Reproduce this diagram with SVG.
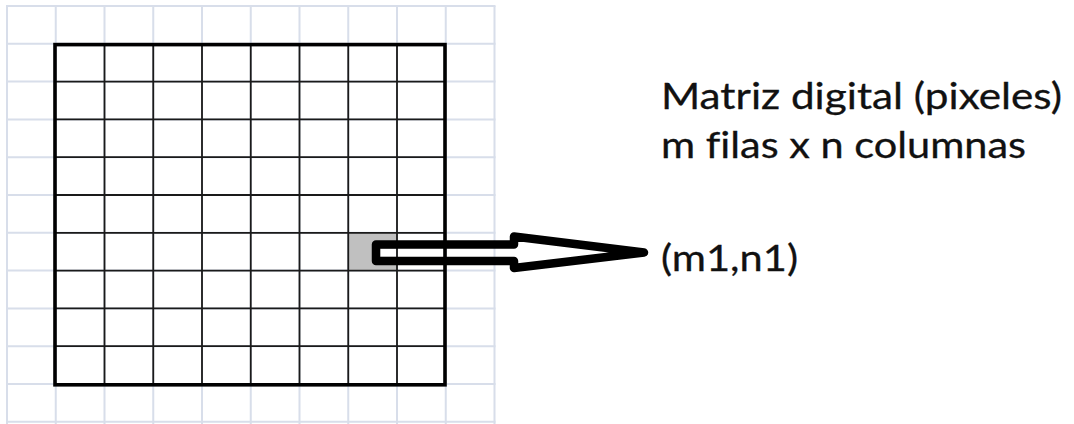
<svg xmlns="http://www.w3.org/2000/svg" width="1074" height="424" viewBox="0 0 1074 424">
<defs>
<style>
.sheet{stroke:#d8deea;stroke-width:2;fill:none}
.cell{stroke:#1a1a1a;stroke-width:1.8;fill:none}
.border{stroke:#000;stroke-width:3.6;fill:none}
.lbl{font-family:Lato,"Open Sans","Liberation Sans",sans-serif;font-size:36.5px;fill:#111;stroke:#111;stroke-width:0.3;font-variant-ligatures:none;font-feature-settings:"liga" 0}
.arrow{fill:none;stroke:#000;stroke-width:8.5;stroke-linejoin:round}
</style>
</defs>
<rect width="1074" height="424" fill="#fff"/>
<g id="sheet-grid">
<path class="sheet" d="M7,6V424M55.75,6V424M104.5,6V424M153.25,6V424M202,6V424M250.75,6V424M299.5,6V424M348.25,6V424M397,6V424M445.75,6V424M494.5,6V424"/>
<path class="sheet" d="M6,6H495.5M6,43.8H495.5M6,81.6H495.5M6,119.4H495.5M6,157.2H495.5M6,195H495.5M6,232.8H495.5M6,270.6H495.5M6,308.4H495.5M6,346.2H495.5M6,384H495.5M6,421.8H495.5"/>
</g>
<g id="matrix">
<path fill="#c0c0c0" fill-rule="evenodd" d="M348.25,232.8H397V270.6H348.25Z M380.25,248.75V256.75H397V248.75Z"/>
<path class="cell" d="M104.5,44V384M153.25,44V384M202,44V384M250.75,44V384M299.5,44V384M348.25,44V384M397,44V384"/>
<path class="cell" d="M55,81.6H445M55,119.4H445M55,157.2H445M55,195H445M55,232.8H445M55,270.6H445M55,308.4H445M55,346.2H445"/>
<rect class="border" x="55" y="44.6" width="390" height="340.2"/>
</g>
<g id="connectors">
<path id="arrow-pixel" class="arrow" d="M376,244.5H514V236.5L644,252.5L514,268V261H376Z"/>
</g>
<g id="label-matrix">
<text class="lbl" x="661" y="108.5" textLength="401" lengthAdjust="spacingAndGlyphs">Matriz digital (pixeles)</text>
<text class="lbl" x="661" y="157.5" textLength="365" lengthAdjust="spacingAndGlyphs">m filas x n columnas</text>
</g>
<g id="label-pixel">
<text class="lbl" x="661" y="270.5" textLength="137" lengthAdjust="spacingAndGlyphs">(m1,n1)</text>
</g>
</svg>
